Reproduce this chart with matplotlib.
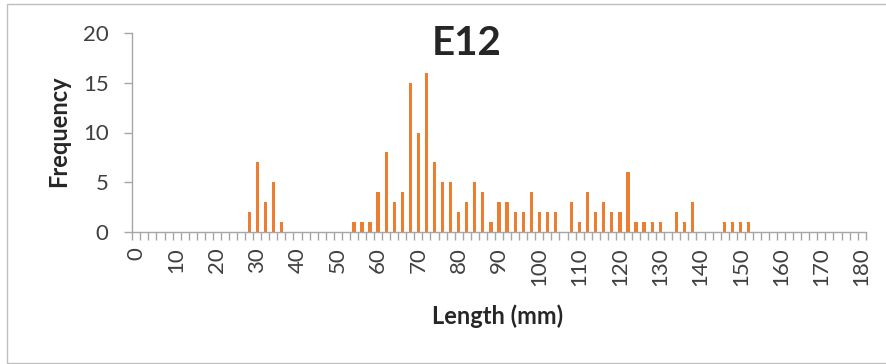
import matplotlib
matplotlib.use("Agg")
import matplotlib.pyplot as plt
from matplotlib.patches import Rectangle
import numpy as np

# Bin lengths (mm), every 2 mm from 0 to 180
lengths = list(range(0, 182, 2))
# Frequency per bin
frequency = [
    0, 0, 0, 0, 0, 0, 0, 0, 0, 0,      # 0-18
    0, 0, 0, 0, 2, 7, 3, 5, 1, 0,      # 20-38
    0, 0, 0, 0, 0, 0, 0, 1, 1, 1,      # 40-58
    4, 8, 3, 4, 15, 10, 16, 7, 5, 5,   # 60-78
    2, 3, 5, 4, 1, 3, 3, 2, 2, 4,      # 80-98
    2, 2, 2, 0, 3, 1, 4, 2, 3, 2,      # 100-118
    2, 6, 1, 1, 1, 1, 0, 2, 1, 3,      # 120-138
    0, 0, 0, 1, 1, 1, 1, 0, 0, 0,      # 140-158
    0, 0, 0, 0, 0, 0, 0, 0, 0, 0,      # 160-178
    0,                                 # 180
]
tick_labels = [str(v) for v in range(0, 190, 10)]
y_ticks = [0, 5, 10, 15, 20]

title = "E12"
xlabel = "Length (mm)"
ylabel = "Frequency"

W, H = 886, 364
fig = plt.figure(figsize=(W / 100, H / 100), dpi=100)
fig.patch.set_facecolor("white")

ax = fig.add_axes([132.3 / W, 1 - 231.7 / H, (865.7 - 132.3) / W, (231.7 - 33.3) / H])

ax.bar(lengths, frequency, width=0.8, color="#ED7D31", zorder=2)

gray = "#A6A6A6"
ax.set_xlim(-1, 181)
ax.set_ylim(0, 20)
for s in ["top", "right"]:
    ax.spines[s].set_visible(False)
for s in ["left", "bottom"]:
    ax.spines[s].set_color(gray)
    ax.spines[s].set_linewidth(1.0)

# Tick marks between categories, labels every 10 mm
ax.set_xticks(np.arange(-1, 182, 2))
ax.set_xticklabels([])
ax.set_xticks([int(t) for t in tick_labels], minor=True)
ax.set_xticklabels(tick_labels, minor=True, rotation=90, va="top", ha="center")
ax.tick_params(axis="x", which="major", direction="out", length=6, width=1, color=gray)
ax.tick_params(axis="x", which="minor", length=0, pad=11, labelsize=16, labelcolor="#404040")

ax.set_yticks(y_ticks)
ax.set_yticklabels([str(v) for v in y_ticks])
ax.tick_params(axis="y", direction="out", length=6, width=1, color=gray, pad=11,
               labelsize=16, labelcolor="#404040")

for lab in ax.get_xticklabels(minor=True) + ax.get_yticklabels():
    lab.set_fontfamily("Lato")

fig.text(467 / W, 1 - 55 / H, title, ha="center", va="baseline", fontsize=29,
         fontweight="bold", family="Lato", color="#262626")
fig.text(498 / W, 1 - 323.5 / H, xlabel, ha="center", va="baseline", fontsize=17,
         fontweight="bold", family="Lato", color="#262626")
fig.text(59 / W, 1 - 131 / H, ylabel, ha="center", va="center", rotation=90, fontsize=17,
         fontweight="bold", family="Lato", color="#262626")

# chart border
fig.add_artist(Rectangle((6.5 / W, 1.0 / H), 1.0, (362.5 - 1.0 - 2.0) / H + 0.0,
                         transform=fig.transFigure, fill=False, edgecolor="#BFBFBF",
                         linewidth=1.0, clip_on=False))

fig.savefig("out.png", dpi=100, facecolor="white")
